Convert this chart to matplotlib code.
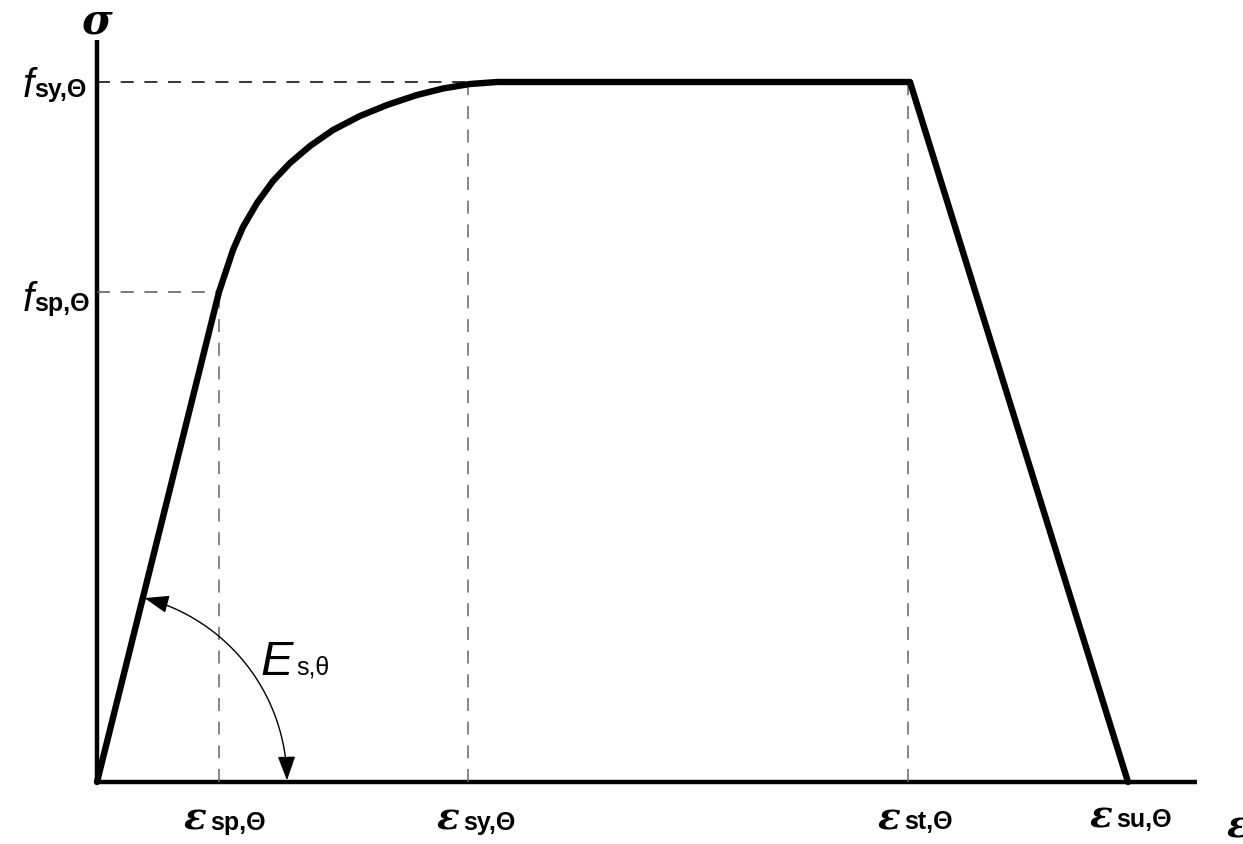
import numpy as np
import matplotlib
matplotlib.use("Agg")
import matplotlib.pyplot as plt
from matplotlib.patches import FancyArrowPatch
from matplotlib.path import Path

# ---- data (arbitrary strain / stress units) ----
eps_sp, eps_sy, eps_st, eps_su = 122, 371, 812, 1031
f_sp, f_sy = 490, 700
# stress-strain curve
curve_eps = [0, 122, 136, 146, 160, 176, 193, 213, 236, 263, 290, 320, 346, 373, 400, 813, 1031]
curve_sig = [0, 490, 532, 555, 579, 601, 619, 636, 652, 666, 677, 687, 693.5, 698, 700, 700, 0]
x_max, y_max = 1100, 742
arc_radius = 190
arc_angles = (0.5, 75.5)

W, H = 1243, 844
fig = plt.figure(figsize=(W / 100, H / 100), dpi=100)
ox, oy = 97, 782
ax = fig.add_axes([ox / W, (H - oy) / H, x_max / W, y_max / H])
ax.set_xlim(0, x_max)
ax.set_ylim(0, y_max)
ax.axis("off")

# axes lines
ax.plot([0, 0], [0, y_max], color="black", lw=3.2, solid_capstyle="butt", clip_on=False)
ax.plot([0, x_max], [0, 0], color="black", lw=3.2, solid_capstyle="butt", clip_on=False)

# dashed guides
dash = (0, (8.5, 7))
ax.plot([0, 380], [f_sy, f_sy], color="black", lw=1.1, ls=dash, clip_on=False)
ax.plot([0, eps_sp], [f_sp, f_sp], color="#555555", lw=1.1, ls=dash, clip_on=False)
ax.plot([eps_sp, eps_sp], [0, f_sp], color="#666666", lw=1.1, ls=dash, clip_on=False)
ax.plot([eps_sy, eps_sy], [0, 695], color="#666666", lw=1.1, ls=dash, clip_on=False)
ax.plot([eps_st - 1, eps_st - 1], [0, 698], color="#666666", lw=1.1, ls=dash, clip_on=False)

# main curve
ax.plot(curve_eps, curve_sig, color="black", lw=4.6, solid_joinstyle="round",
        solid_capstyle="round", clip_on=False, zorder=5)

# modulus arc with arrows
t = np.radians(np.linspace(arc_angles[0], arc_angles[1], 60))
verts = np.column_stack([arc_radius * np.cos(t), arc_radius * np.sin(t)])
arc = FancyArrowPatch(path=Path(verts), arrowstyle="<|-|>,head_length=15,head_width=5.5",
                      mutation_scale=1, color="black", lw=1.0, transform=ax.transData,
                      zorder=6)
ax.add_patch(arc)

sans = "Liberation Sans"
eps_font = dict(family="DejaVu Serif", style="italic", weight="bold", fontsize=27)
sub_font = dict(family=sans, weight="bold", fontsize=18)

def eps_label(xsplit, yb, sub):
    ax.text(xsplit, yb, "ε", ha="right", va="baseline", clip_on=False, **eps_font)
    ax.text(xsplit + 4, yb, sub, ha="left", va="baseline", clip_on=False, **sub_font)

eps_label(109, -48, "sp,Θ")
eps_label(362, -48, "sy,Θ")
eps_label(803, -47, "st,Θ")
eps_label(1015, -45, "su,Θ")
ax.text(1130, -55, "ε", ha="left", va="baseline", clip_on=False, **eps_font)

# stress labels
def f_label(yb, sub):
    ax.text(-63, yb, "f", ha="right", va="baseline", family=sans, style="italic",
            fontsize=29, clip_on=False)
    ax.text(-63, yb, sub, ha="left", va="baseline", clip_on=False, **sub_font)

f_label(685, "sy,Θ")
f_label(471, "sp,Θ")

ax.text(0, 760, "σ", ha="center", va="center", family="DejaVu Serif", style="italic",
        weight="bold", fontsize=30, clip_on=False)

# modulus label
ax.text(196, 107, "E", ha="right", va="baseline", family=sans, style="italic",
        fontsize=35, clip_on=False)
ax.text(199, 107, "s,θ", ha="left", va="baseline", family=sans, fontsize=18, clip_on=False)

fig.savefig("out.png", dpi=100)
